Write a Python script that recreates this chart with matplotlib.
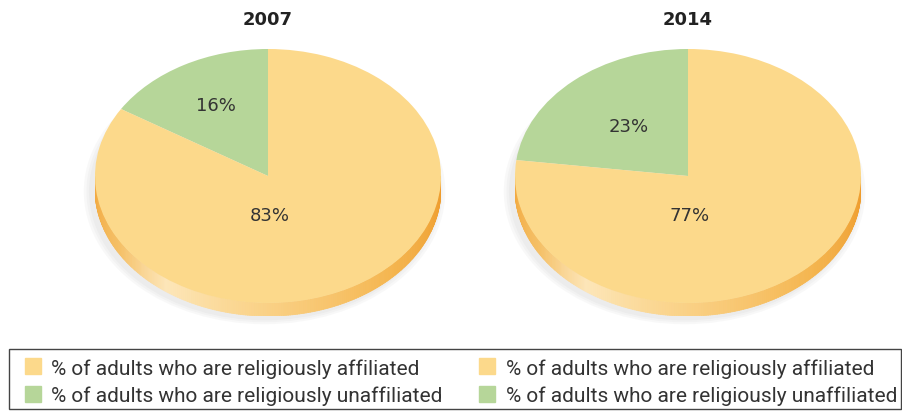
import numpy as np
import matplotlib.pyplot as plt
from matplotlib.patches import Patch, Ellipse, Rectangle
from matplotlib.collections import PolyCollection
from matplotlib.colors import LinearSegmentedColormap

# dados
anos = ['2007', '2014']
afiliados = [83, 77]
sem_afiliacao = [16, 23]
rotulo_afiliados = '% of adults who are religiously affiliated'
rotulo_sem = '% of adults who are religiously unaffiliated'

cor_amarelo = '#FCD98B'
cor_verde = '#B6D699'
cor_texto = '#333333'

# gradiente da lateral (da esquerda para a direita da pizza)
lateral = LinearSegmentedColormap.from_list('lateral', [
    (0.00, '#F1A63A'), (0.18, '#F6C26A'), (0.30, '#FDE6B9'),
    (0.45, '#FBD690'), (0.75, '#F5B650'), (1.00, '#EE9B2C')])

fig = plt.figure(figsize=(9.03, 4.14), dpi=100)
W, H = 903, 414

# posicoes em pixels (centro x, topo, raio x, raio y, espessura)
centros = [268, 688]
topo = 50
rx, ry, esp = 173, 127, 13
tk = esp / ry
pos_sem = [(-0.30, 0.56), (-0.34, 0.39)]
pos_af = [(0.01, -0.31), (0.01, -0.31)]

for i in range(2):
    x0 = (centros[i] - rx) / W
    y0 = 1 - (topo + 2 * ry + esp) / H
    ax = fig.add_axes([x0, y0, 2 * rx / W, (2 * ry + esp) / H])

    # sombra suave
    for k in range(3):
        s = 1.0 + 0.015 * (k + 1)
        ax.add_patch(Ellipse((-0.02, -tk - 0.02), 2 * s, 2 * s, color='#888888',
                             alpha=0.05, lw=0, clip_on=False, zorder=0))

    # lateral da pizza
    ang = np.linspace(np.pi, 2 * np.pi, 241)
    polys = []
    for a, b in zip(ang[:-1], ang[1:]):
        polys.append([(np.cos(a), np.sin(a)), (np.cos(b), np.sin(b)),
                      (np.cos(b), np.sin(b) - tk), (np.cos(a), np.sin(a) - tk)])
    cores = lateral(np.linspace(0, 1, len(polys)))
    ax.add_collection(PolyCollection(polys, facecolors=cores, edgecolors=cores,
                                     linewidths=0.6, zorder=1))

    ax.pie([sem_afiliacao[i], afiliados[i]], colors=[cor_verde, cor_amarelo],
           startangle=90, radius=1, wedgeprops=dict(linewidth=0, zorder=2))
    ax.set_aspect('auto')
    ax.set_xlim(-1, 1)
    ax.set_ylim(-1 - tk, 1)
    ax.axis('off')

    ax.text(*pos_sem[i], f'{sem_afiliacao[i]}%', ha='center', va='center',
            fontsize=13, color=cor_texto, zorder=5)
    ax.text(*pos_af[i], f'{afiliados[i]}%', ha='center', va='center',
            fontsize=13, color=cor_texto, zorder=5)

    fig.text(centros[i] / W, 1 - 20 / H, anos[i], ha='center', va='center',
             fontsize=13, fontweight='bold', color='#222222')

# moldura da legenda
fig.add_artist(Rectangle((9 / W, 1 - 410 / H), 892 / W, 60 / H, transform=fig.transFigure,
                         fill=False, edgecolor='#444444', linewidth=1.0))

handles = [Patch(color=cor_amarelo, label=rotulo_afiliados),
           Patch(color=cor_verde, label=rotulo_sem),
           Patch(color=cor_amarelo, label=rotulo_afiliados),
           Patch(color=cor_verde, label=rotulo_sem)]
leg = fig.legend(handles=handles, ncol=2, loc='upper left',
                 bbox_to_anchor=(25 / W, 1 - 359 / H), frameon=False,
                 handlelength=0.77, handleheight=0.77, handletextpad=0.5,
                 labelspacing=0.4, columnspacing=1.75, borderpad=0, borderaxespad=0,
                 prop=dict(family=['Liberation Sans Narrow', 'Roboto'], size=15))
for t in leg.get_texts():
    t.set_color(cor_texto)

fig.savefig('out.png', dpi=100)
